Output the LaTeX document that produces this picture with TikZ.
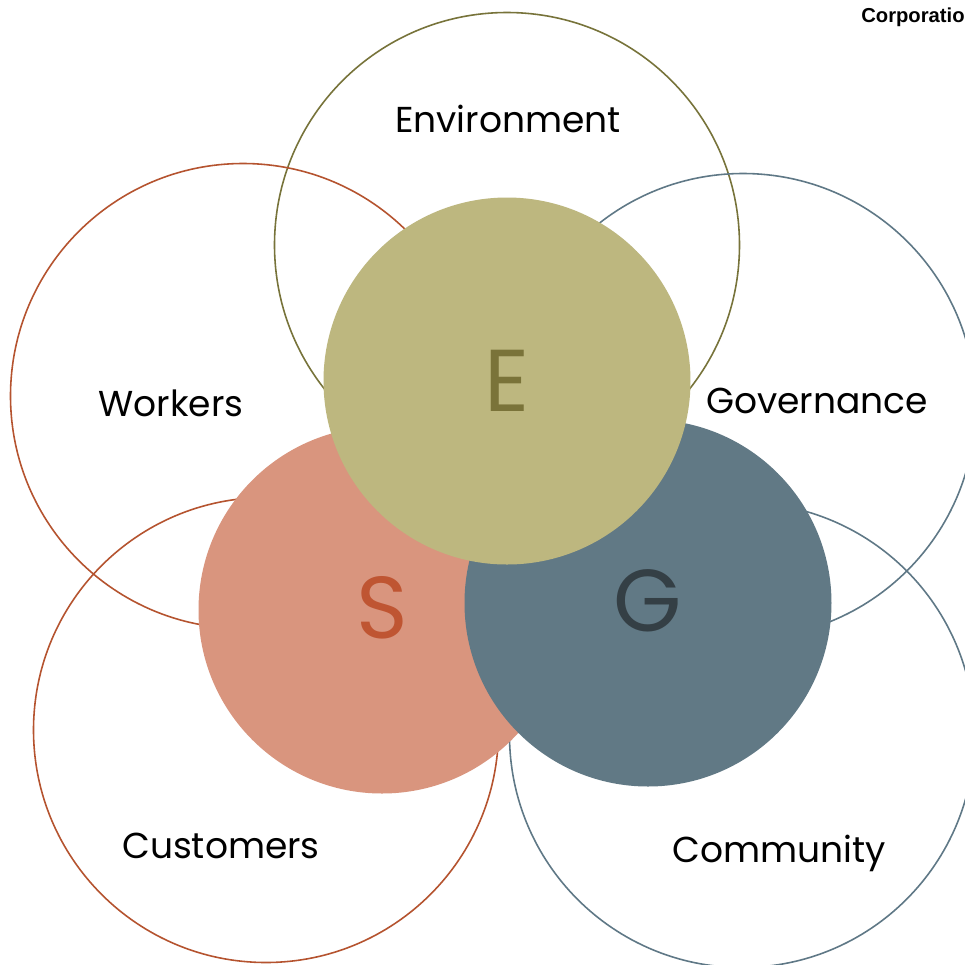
\documentclass[tikz,border=0pt]{standalone}
\usepackage{fontspec}
\setmainfont{Poppins}
\newfontfamily\corpfont{Liberation Sans}
\definecolor{olive}{HTML}{77733A}
\definecolor{rust}{HTML}{B5532F}
\definecolor{slate}{HTML}{5F7886}
\definecolor{efill}{HTML}{BDB77F}
\definecolor{sfill}{HTML}{D9957E}
\definecolor{gfill}{HTML}{617985}
\definecolor{eletter}{HTML}{7A7339}
\definecolor{sletter}{HTML}{BF5532}
\definecolor{gletter}{HTML}{343F45}
\tikzset{
  ring/.style={circle, draw, line width=0.9pt, minimum size=465*0.02cm, inner sep=0pt},
  disc/.style={circle, minimum size=367*0.02cm, inner sep=0pt},
  label/.style={font=\fontsize{20.5}{24}\selectfont, inner sep=0pt},
  big/.style={font=\fontsize{50}{56}\selectfont, inner sep=0pt}
}
\begin{document}
\begin{tikzpicture}[x=0.02cm,y=-0.02cm]
\useasboundingbox (0,0) rectangle (965,965);
\fill[white] (0,0) rectangle (965,965);
\node[ring, draw=olive] (envring) at (507,245) {};
\node[ring, draw=rust] (workring) at (243,396) {};
\node[ring, draw=slate] (govring) at (743,406) {};
\node[ring, draw=rust] (custring) at (266,730) {};
\node[ring, draw=slate] (commring) at (742,735) {};
\node[disc, fill=sfill] (sdisc) at (382,610) {};
\node[disc, fill=gfill] (gdisc) at (648,603) {};
\node[disc, fill=efill] (edisc) at (507,381) {};
\node[big, text=eletter] (eletter) at (507,381) {E};
\node[big, text=sletter] (sletter) at (382,608) {S};
\node[big, text=gletter] (gletter) at (648,601) {G};
\node[label] (envlabel) at (508,119) {Environment};
\node[label] (worklabel) at (171,403) {Workers};
\node[label] (govlabel) at (817,401) {Governance};
\node[label] (custlabel) at (221,846) {Customers};
\node[label] (commlabel) at (779,853) {Community};
\node[anchor=west, inner sep=0pt, font=\corpfont\bfseries\fontsize{11.5}{13}\selectfont] (corp) at (861,17) {Corporation};
\end{tikzpicture}
\end{document}
